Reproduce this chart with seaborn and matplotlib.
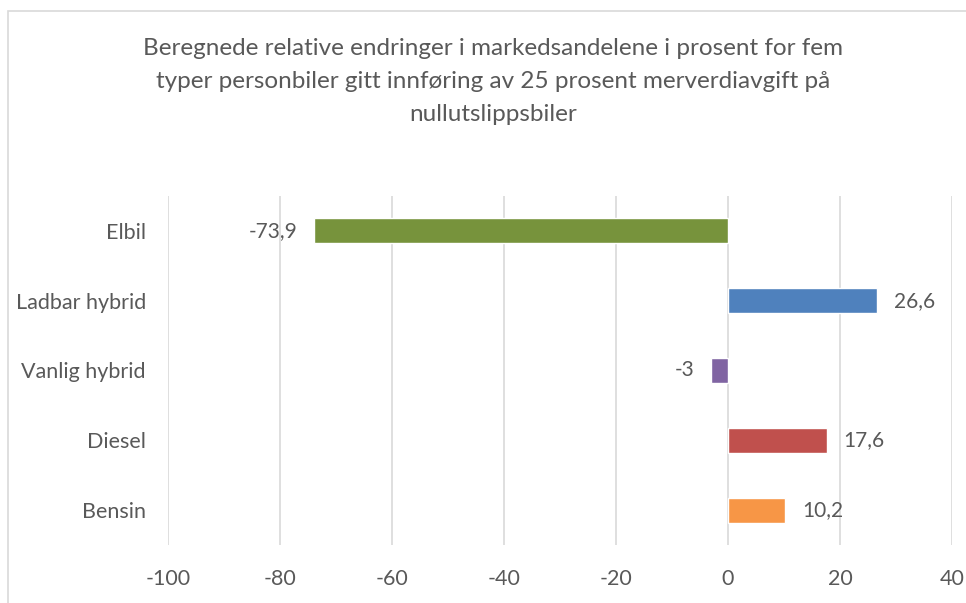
import numpy as np
import pandas as pd
import matplotlib.pyplot as plt
from matplotlib.patches import Rectangle
import seaborn as sns

sns.set_theme(style='white')
plt.rcParams['font.family'] = ['Lato', 'DejaVu Sans']

categories = ['Elbil', 'Ladbar hybrid', 'Vanlig hybrid', 'Diesel', 'Bensin']
values = [-73.9, 26.6, -3, 17.6, 10.2]
colors = ['#77933C', '#4F81BD', '#8064A2', '#C0504D', '#F79646']
xticks = [-100, -80, -60, -40, -20, 0, 20, 40]

title = ('Beregnede relative endringer i markedsandelene i prosent for fem\n'
         'typer personbiler gitt innføring av 25 prosent merverdiavgift på\n'
         'nullutslippsbiler')

df = pd.DataFrame({'kategori': categories, 'endring': values})
grey = '#595959'

fig = plt.figure(figsize=(9.66, 6.03), dpi=100)
ax = fig.add_axes([0.1739, 0.0962, 0.8116, 0.579])

sns.barplot(data=df, x='endring', y='kategori', hue='kategori', palette=colors,
            orient='h', width=0.36, legend=False, ax=ax, saturation=1)

for cont, v in zip(ax.containers, values):
    ax.bar_label(cont, labels=[str(v).replace('.', ',')], padding=12,
                 fontsize=15, color=grey)

ax.set_xlim(-100, 40)
ax.set_xticks(xticks)
ax.set_xticklabels([str(t) for t in xticks])
ax.set_xlabel('')
ax.set_ylabel('')
ax.grid(axis='x', color='#D9D9D9', linewidth=1.2)
ax.set_axisbelow(True)
for s in ax.spines.values():
    s.set_visible(False)
ax.tick_params(axis='x', length=0, pad=17, labelsize=15.5, labelcolor=grey)
ax.tick_params(axis='y', length=0, pad=16, labelsize=15.5, labelcolor=grey)

fig.text(0.51, 0.937, title, ha='center', va='top', fontsize=17.5,
         color=grey, linespacing=1.7)

fig.patches.append(Rectangle((8 / 966, -0.05), 1.2, 1.05 - 11 / 603,
                             transform=fig.transFigure, fill=False,
                             edgecolor='#D9D9D9', linewidth=1.2))

plt.savefig('out.png', dpi=100)
